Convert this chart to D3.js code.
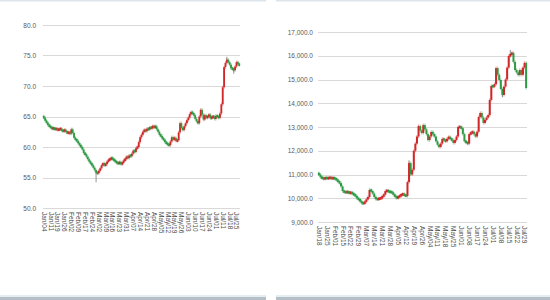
<!DOCTYPE html>
<html>
<head>
<meta charset="utf-8">
<script src="https://cdn.jsdelivr.net/npm/d3@7"></script>
<style>
  body { margin: 0; background: #fff; }
  svg { display: block; font-family: "Liberation Sans", "DejaVu Sans", sans-serif; }
</style>
</head>
<body>
<script>
// left chart: daily closes (open = previous close)
const leftFirstOpen = 65.0;
const leftClose = [
  64.8, 64.3, 64.0, 63.6, 63.4, 63.2,
  63.0, 63.1, 62.9, 63.0, 62.8, 62.9, 63.0,
  62.7, 62.6, 62.8, 62.5,
  62.3, 62.4, 62.2, 62.9,
  62.3, 61.5,
  61.2, 61.0, 60.6, 60.3, 60.0,
  59.6, 59.0,
  58.8, 58.4, 58.0,
  57.6, 57.3, 57.0,
  56.6, 56.2, 55.8, 55.7,
  56.1, 56.5, 57.0, 57.3,
  57.0, 57.2, 57.6, 57.9, 58.0, 58.2,
  58.0, 57.8,
  57.6, 57.4, 57.3, 57.5, 57.2,
  57.4, 57.8, 58.0,
  58.4, 58.2, 58.6, 58.5,
  58.9, 59.4, 59.2, 59.8, 60.0,
  60.8, 61.6, 62.0, 62.5,
  62.8, 62.6, 63.0, 62.9, 63.2, 63.1,
  63.4, 63.2, 63.4,
  62.9, 62.5,
  62.0, 61.8, 61.4, 61.2, 60.8,
  60.6, 60.4, 60.3,
  60.9, 61.6,
  61.2, 61.5, 61.0, 61.1,
  62.4, 63.9,
  63.1,
  62.8, 63.4, 63.9, 64.4,
  64.8, 65.4, 65.7,
  65.5, 65.2,
  64.6, 64.2, 63.9,
  65.0, 66.1,
  65.3, 64.5,
  65.2, 64.8, 65.0,
  65.3, 64.7,
  64.9, 65.0,
  64.6, 65.1, 65.0,
  64.8, 65.5,
  67.0, 69.8, 73.1,
  73.8, 74.3,
  73.9, 73.5, 72.9,
  72.8, 72.6,
  73.2, 73.9,
  73.6, 73.4
];
// isolated long wicks: [index, price]
const leftWicks = [[38, 54.2], [133, 74.8], [138, 72.0]];
const leftTicks = [50, 55, 60, 65, 70, 75, 80];
const leftLabels = ["Jan/04", "Jan/11", "Jan/19", "Jan/26", "Feb/02", "Feb/09", "Feb/17", "Feb/24",
  "Mar/02", "Mar/09", "Mar/16", "Mar/23", "Mar/31", "Apr/07", "Apr/14", "Apr/21", "Apr/28",
  "May/05", "May/12", "May/19", "May/26", "Jun/03", "Jun/10", "Jun/17", "Jun/24",
  "Jul/01", "Jul/11", "Jul/18", "Jul/25"];

// right chart
const rightFirstOpen = 11050;
const rightClose = [
  11000,
  10880, 10850, 10820, 10860, 10840, 10850, 10870, 10830, 10860, 10820,
  10780, 10700, 10640, 10500, 10300, 10260,
  10250, 10270, 10220, 10240, 10200, 10150, 10100,
  10000, 9950, 9880, 9800, 9780,
  9850, 9950, 10050, 10350,
  10300, 10200, 10050, 9970,
  9960, 9990, 10000, 10080, 10150,
  10300, 10320, 10280, 10260, 10250,
  10150, 10080, 10010, 10060, 10100, 10150,
  10180, 10120, 10100,
  10680, 11480, 11000, 11200,
  12000, 12300, 12600, 13040,
  12850, 12750, 13080, 12900, 12700,
  12450, 12600, 12790, 12700, 12600,
  12400, 12250, 12160, 12300, 12500,
  12450, 12400, 12500, 12580,
  12500, 12450, 12330, 12450, 12600,
  13000, 13000, 12950, 12700,
  12400, 12350, 12300, 12700, 12750,
  12800, 12700, 12600, 12800,
  13420, 13590, 13400, 13170,
  13300, 13400, 13500,
  14140, 14730, 14700, 14800,
  15480, 15200, 14980, 14600, 14350,
  14700, 15000, 15500, 15990, 16050,
  16120, 15740, 15400, 15300, 15190,
  15400, 15200, 15500, 15700, 14640
];
const rightWicks = [[57, 11600], [121, 16250], [116, 14250]];
const rightTicks = [9000, 10000, 11000, 12000, 13000, 14000, 15000, 16000, 17000];
const rightLabels = ["Jan/18", "Jan/25", "Feb/01", "Feb/15", "Feb/22", "Feb/29", "Mar/07",
  "Mar/14", "Mar/21", "Mar/28", "Apr/05", "Apr/12", "Apr/19", "Apr/26", "May/04", "May/11",
  "May/18", "May/25", "Jun/01", "Jun/08", "Jun/17", "Jun/24", "Jul/01", "Jul/08", "Jul/15",
  "Jul/22", "Jul/29"];

const upColor = "#d02828";
const downColor = "#2f9a45";

const svg = d3.select("body").append("svg")
  .attr("width", 550)
  .attr("height", 300);

// frame lines
svg.append("rect").attr("x", 0).attr("y", 0).attr("width", 266).attr("height", 1.5).attr("fill", "#dde4ea");
svg.append("rect").attr("x", 276).attr("y", 0).attr("width", 274).attr("height", 1.5).attr("fill", "#dde4ea");
svg.append("rect").attr("x", 0).attr("y", 295).attr("width", 266).attr("height", 2).attr("fill", "#e6edf1");
svg.append("rect").attr("x", 0).attr("y", 297).attr("width", 266).attr("height", 3).attr("fill", "#b4bfc7");
svg.append("rect").attr("x", 276).attr("y", 295).attr("width", 274).attr("height", 2).attr("fill", "#e6edf1");
svg.append("rect").attr("x", 276).attr("y", 297).attr("width", 274).attr("height", 3).attr("fill", "#b4bfc7");

function drawChart(opt) {
  const g = svg.append("g");
  const n = opt.close.length;
  const data = opt.close.map((c, i) => ({
    i: i,
    open: i === 0 ? opt.firstOpen : opt.close[i - 1],
    close: c
  }));

  const x = d3.scaleBand()
    .domain(d3.range(n))
    .range([opt.x0, opt.x1])
    .padding(0.1);

  const y = d3.scaleLinear()
    .domain(opt.domain)
    .range([opt.y0, opt.y1]);

  // horizontal grid
  g.append("g")
    .selectAll("line")
    .data(opt.ticks)
    .join("line")
    .attr("x1", opt.x0)
    .attr("x2", opt.x1)
    .attr("y1", (d) => Math.round(y(d)) + 0.5)
    .attr("y2", (d) => Math.round(y(d)) + 0.5)
    .attr("stroke", "#d9d9d9")
    .attr("stroke-width", 1);

  // y axis labels
  const yAxis = g.append("g")
    .attr("transform", `translate(${opt.x0},0)`)
    .call(d3.axisLeft(y).tickValues(opt.ticks).tickSize(0).tickPadding(opt.yPad).tickFormat(opt.yFormat));
  yAxis.select(".domain").remove();
  yAxis.selectAll("text")
    .attr("font-size", 6.5)
    .attr("fill", "#595959");

  // x axis labels (every 5th candle)
  const tickIdx = opt.labels.map((d, k) => k * 5);
  const xAxis = g.append("g")
    .attr("transform", `translate(0,${opt.y0})`)
    .call(d3.axisBottom(x).tickValues(tickIdx).tickSize(0).tickFormat((d) => opt.labels[d / 5]));
  xAxis.select(".domain").remove();
  xAxis.selectAll("text")
    .attr("font-size", 6.5)
    .attr("fill", "#4d4d4d")
    .attr("text-anchor", "start")
    .attr("dy", "0.32em")
    .attr("transform", "translate(0,4) rotate(90)")
    .attr("y", 0)
    .attr("x", 0);

  const cx = (i) => x(i) + x.bandwidth() / 2;

  // short daily wicks
  g.append("g")
    .selectAll("line")
    .data(data)
    .join("line")
    .attr("x1", (d) => cx(d.i))
    .attr("x2", (d) => cx(d.i))
    .attr("y1", (d) => y(Math.max(d.open, d.close)) - 1.6)
    .attr("y2", (d) => y(Math.min(d.open, d.close)) + 1.6)
    .attr("stroke", (d) => d.close >= d.open ? upColor : downColor)
    .attr("stroke-opacity", 0.6)
    .attr("stroke-width", 0.8);

  // long wicks
  g.append("g")
    .selectAll("line")
    .data(opt.wicks)
    .join("line")
    .attr("x1", (d) => cx(d[0]))
    .attr("x2", (d) => cx(d[0]))
    .attr("y1", (d) => y(d[1]))
    .attr("y2", (d) => y((data[d[0]].open + data[d[0]].close) / 2))
    .attr("stroke", "#7a7a7a")
    .attr("stroke-width", 0.8);

  // candle bodies
  const minH = 2.6;
  g.append("g")
    .selectAll("rect")
    .data(data)
    .join("rect")
    .attr("x", (d) => x(d.i) - 0.3)
    .attr("width", x.bandwidth() + 0.6)
    .attr("y", (d) => {
      const top = y(Math.max(d.open, d.close));
      const h = Math.abs(y(d.open) - y(d.close));
      return h < minH ? (y(d.open) + y(d.close)) / 2 - minH / 2 : top;
    })
    .attr("height", (d) => Math.max(minH, Math.abs(y(d.open) - y(d.close))))
    .attr("fill", (d) => d.close >= d.open ? upColor : downColor);
}

drawChart({
  close: leftClose,
  firstOpen: leftFirstOpen,
  wicks: leftWicks,
  ticks: leftTicks,
  labels: leftLabels,
  domain: [50, 80],
  x0: 43, x1: 240,
  y0: 208, y1: 25,
  yPad: 7,
  yFormat: d3.format(".1f")
});

drawChart({
  close: rightClose,
  firstOpen: rightFirstOpen,
  wicks: rightWicks,
  ticks: rightTicks,
  labels: rightLabels,
  domain: [9000, 17000],
  x0: 318, x1: 527,
  y0: 222, y1: 32,
  yPad: 5,
  yFormat: d3.format(",.1f")
});
</script>
</body>
</html>
